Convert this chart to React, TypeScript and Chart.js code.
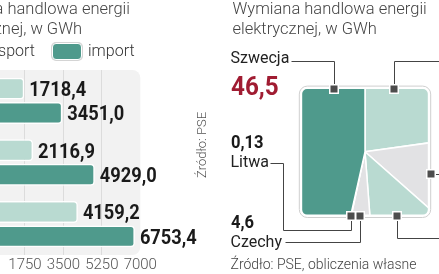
import React, { useEffect, useRef } from "react";
import { Chart, registerables } from "chart.js";

Chart.register(...registerables);

// ---------- data ----------
const periods = ["okres 1", "okres 2", "okres 3"];
const exportValues = [1718.4, 2116.9, 4159.2];
const importValues = [3451.0, 4929.0, 6753.4];
const xTicks = [0, 1750, 3500, 5250, 7000];

const countries = ["Niemcy", "Ukraina", "Słowacja", "Czechy", "Litwa", "Szwecja"];
const shares = [22.8, 13.7, 12.3, 4.6, 0.13, 46.5];

// ---------- styles ----------
const TEAL = "#4f9a8c";
const LIGHT = "#b9dad1";
const GRAY = "#e2e2e4";
const sliceColors = [LIGHT, GRAY, LIGHT, GRAY, GRAY, TEAL];
const FONT = "Roboto";
const TITLE_SIZE = 16.5;

const fmtBar = (v: number) => v.toFixed(1).replace(".", ",");
const fmtShare = (v: number) => String(v).replace(".", ",");

// leader lines relative to the pie centre, one per country (last point = marker)
const leaderPaths: number[][][] = [
  [[90, -90.8], [29.3, -90.8], [29.3, -63.1]],
  [[90, 22.2], [65.7, 22.2]],
  [[90, 86.5], [31.7, 86.5], [31.7, 63.9]],
  [[-80, 89.9], [-4.7, 89.9], [-4.7, 63.9]],
  [[-95, 11.5], [-81.7, 11.5], [-81.7, 78.2], [-14.3, 78.2], [-14.3, 63.9]],
  [[-74, -90.8], [-31.3, -90.8], [-31.3, -63.1]],
];

const valueLabels = {
  id: "valueLabels",
  afterDatasetsDraw(chart: any) {
    const ctx = chart.ctx;
    chart.data.datasets.forEach((ds: any, di: number) => {
      const meta = chart.getDatasetMeta(di);
      meta.data.forEach((bar: any, i: number) => {
        ctx.save();
        ctx.translate(bar.x + 5, bar.y + 7.4);
        ctx.scale(0.87, 1);
        ctx.font = `700 21px ${FONT}`;
        ctx.fillStyle = "#1a1a1a";
        ctx.textBaseline = "alphabetic";
        ctx.fillText(fmtBar(ds.data[i]), 0, 0);
        ctx.restore();
      });
    });
  },
};

const panelBg = {
  id: "panelBg",
  beforeDraw(chart: any) {
    const { ctx, chartArea: a } = chart;
    ctx.save();
    ctx.fillStyle = "#f2f2f2";
    ctx.beginPath();
    ctx.roundRect(a.left - 40, a.top, a.right - a.left + 40, a.bottom - a.top, 8);
    ctx.fill();
    ctx.restore();
  },
};

const HALF = 64;
const pieFrame = {
  id: "pieFrame",
  beforeDatasetsDraw(chart: any) {
    const arc = chart.getDatasetMeta(0).data[0];
    const ctx = chart.ctx;
    ctx.save();
    ctx.beginPath();
    ctx.roundRect(arc.x - HALF, arc.y - HALF, HALF * 2, HALF * 2, 6);
    ctx.clip();
  },
  afterDatasetsDraw(chart: any) {
    const ctx = chart.ctx;
    ctx.restore();
    const arc = chart.getDatasetMeta(0).data[0];
    const cx = arc.x;
    const cy = arc.y;
    // frame
    ctx.save();
    ctx.strokeStyle = "#ffffff";
    ctx.lineWidth = 2.4;
    ctx.beginPath();
    ctx.roundRect(cx - HALF, cy - HALF, HALF * 2, HALF * 2, 6);
    ctx.stroke();
    ctx.strokeStyle = "#cfcfcf";
    ctx.lineWidth = 1;
    const o = HALF + 1.7;
    ctx.beginPath();
    ctx.roundRect(cx - o, cy - o, o * 2, o * 2, 8);
    ctx.stroke();
    // leader lines
    const px = (v: number) => Math.round(v) + 0.5;
    ctx.strokeStyle = "#444";
    ctx.lineWidth = 1;
    leaderPaths.forEach((path) => {
      ctx.beginPath();
      path.forEach(([dx, dy], i) => {
        const X = px(cx + dx);
        const Y = px(cy + dy);
        if (i === 0) ctx.moveTo(X, Y);
        else ctx.lineTo(X, Y);
      });
      ctx.stroke();
    });
    // markers
    leaderPaths.forEach((path) => {
      const [dx, dy] = path[path.length - 1];
      const X = Math.round(cx + dx);
      const Y = Math.round(cy + dy);
      ctx.fillStyle = "#ffffff";
      ctx.fillRect(X - 5, Y - 5, 10, 10);
      ctx.fillStyle = "#4d4d4d";
      ctx.fillRect(X - 3.5, Y - 3.5, 7, 7);
    });
    ctx.restore();
  },
};

type TxtProps = {
  x: number;
  y: number;
  size: number;
  weight?: number;
  color?: string;
  sx?: number;
  align?: "left" | "right";
  children: React.ReactNode;
};

function Txt({ x, y, size, weight = 400, color = "#222", sx = 1, align = "left", children }: TxtProps) {
  const style: React.CSSProperties = {
    position: "absolute",
    top: y - 0.842 * size,
    fontFamily: FONT,
    fontSize: size,
    fontWeight: weight,
    lineHeight: `${size}px`,
    color,
    whiteSpace: "nowrap",
    transform: sx !== 1 ? `scaleX(${sx})` : undefined,
    transformOrigin: align === "left" ? "left center" : "right center",
  };
  if (align === "left") style.left = x;
  else style.right = 439 - x;
  return <div style={style}>{children}</div>;
}

export default function App() {
  const barRef = useRef<HTMLCanvasElement>(null);
  const pieRef = useRef<HTMLCanvasElement>(null);

  useEffect(() => {
    const bar = new Chart(barRef.current!, {
      type: "bar",
      data: {
        labels: periods,
        datasets: [
          {
            label: "eksport",
            data: exportValues,
            backgroundColor: LIGHT,
            borderColor: "#ffffff",
            borderWidth: 1.5,
            borderRadius: 4,
            barPercentage: 0.9,
            categoryPercentage: 0.79,
          },
          {
            label: "import",
            data: importValues,
            backgroundColor: TEAL,
            borderColor: "#ffffff",
            borderWidth: 1.5,
            borderRadius: 4,
            barPercentage: 0.9,
            categoryPercentage: 0.79,
          },
        ],
      },
      options: {
        indexAxis: "y",
        responsive: false,
        animation: false,
        events: [],
        layout: { padding: { left: 6.5, right: 79.7, top: 70, bottom: 5 } },
        scales: {
          x: {
            min: 0,
            max: 7000,
            afterBuildTicks: (s: any) => {
              s.ticks = xTicks.map((v) => ({ value: v }));
            },
            grid: {
              color: (c: any) =>
                c.tick && (c.tick.value === 0 || c.tick.value === 7000) ? "rgba(0,0,0,0)" : "#dcdcdc",
              drawTicks: false,
              lineWidth: 1,
            },
            border: { display: false },
            ticks: {
              font: { family: FONT, size: 15, weight: "300" as any },
              color: "#555",
              padding: 1,
              maxRotation: 0,
              autoSkip: false,
              callback: (v: any) => String(v),
            },
          },
          y: { display: false, grid: { display: false } },
        },
        plugins: { legend: { display: false }, tooltip: { enabled: false } },
      },
      plugins: [panelBg, valueLabels],
    });

    const pie = new Chart(pieRef.current!, {
      type: "pie",
      data: {
        labels: countries,
        datasets: [
          {
            data: shares,
            backgroundColor: sliceColors,
            borderColor: "#ffffff",
            borderWidth: 1.5,
          },
        ],
      },
      options: {
        responsive: false,
        animation: false,
        events: [],
        layout: { padding: { left: 45, right: 15, top: 51.8, bottom: 22.2 } },
        plugins: { legend: { display: false }, tooltip: { enabled: false } },
      },
      plugins: [pieFrame],
    });

    return () => {
      bar.destroy();
      pie.destroy();
    };
  }, []);

  const szw = shares[countries.indexOf("Szwecja")];
  const lit = shares[countries.indexOf("Litwa")];
  const cze = shares[countries.indexOf("Czechy")];

  return (
    <div
      style={{
        position: "fixed",
        left: 0,
        top: 0,
        width: 439,
        height: 274,
        overflow: "hidden",
        background: "#ffffff",
        fontFamily: FONT,
      }}
    >
      <canvas
        ref={barRef}
        width={240}
        height={280}
        style={{ position: "absolute", left: -20, top: 0, width: 240, height: 280 }}
      />
      <canvas
        ref={pieRef}
        width={260}
        height={274}
        style={{ position: "absolute", left: 220, top: 0, width: 260, height: 274 }}
      />

      {/* left panel title & legend */}
      <Txt x={130} y={15} size={TITLE_SIZE} weight={300} color="#444" align="right">
        Wymiana handlowa energii
      </Txt>
      <Txt x={82} y={34.5} size={TITLE_SIZE} weight={300} color="#444" align="right">
        elektrycznej, w GWh
      </Txt>
      <div
        style={{
          position: "absolute",
          left: -95,
          top: 43,
          width: 30,
          height: 17,
          boxSizing: "border-box",
          background: LIGHT,
          borderRadius: 4,
          border: "1.5px solid #fff",
          boxShadow: "0 0 0 1px #d4d4d4",
        }}
      />
      <Txt x={35} y={56} size={16} weight={300} color="#333" align="right">
        eksport
      </Txt>
      <div
        style={{
          position: "absolute",
          left: 52,
          top: 43,
          width: 30,
          height: 17,
          boxSizing: "border-box",
          background: TEAL,
          borderRadius: 4,
          border: "1.5px solid #fff",
          boxShadow: "0 0 0 1px #d4d4d4",
        }}
      />
      <Txt x={88} y={56} size={16} weight={300} color="#333">
        import
      </Txt>

      {/* vertical source */}
      <div
        style={{
          position: "absolute",
          left: 201,
          top: 145,
          transform: "translate(-50%, -50%) rotate(-90deg)",
          fontFamily: FONT,
          fontSize: 13,
          fontWeight: 300,
          lineHeight: "13px",
          color: "#555",
          whiteSpace: "nowrap",
        }}
      >
        Źródło: PSE
      </div>

      {/* right panel */}
      <Txt x={232.5} y={15} size={TITLE_SIZE} weight={300} color="#444">
        Wymiana handlowa energii
      </Txt>
      <Txt x={232.5} y={34.5} size={TITLE_SIZE} weight={300} color="#444">
        elektrycznej, w GWh
      </Txt>
      <Txt x={230.5} y={63.5} size={16} color="#222">
        Szwecja
      </Txt>
      <Txt x={231} y={95} size={25} weight={700} color="#a01c32" sx={0.97}>
        {fmtShare(szw)}
      </Txt>
      <Txt x={230.5} y={148.5} size={18} weight={700} color="#1a1a1a" sx={0.92}>
        {fmtShare(lit)}
      </Txt>
      <Txt x={230.5} y={167.5} size={16} color="#222">
        Litwa
      </Txt>
      <Txt x={230.5} y={228} size={18} weight={700} color="#1a1a1a" sx={0.92}>
        {fmtShare(cze)}
      </Txt>
      <Txt x={230.5} y={247.5} size={16} color="#222">
        Czechy
      </Txt>
      <Txt x={230.5} y={269} size={14} weight={300} color="#444">
        Źródło: PSE, obliczenia własne
      </Txt>
    </div>
  );
}
